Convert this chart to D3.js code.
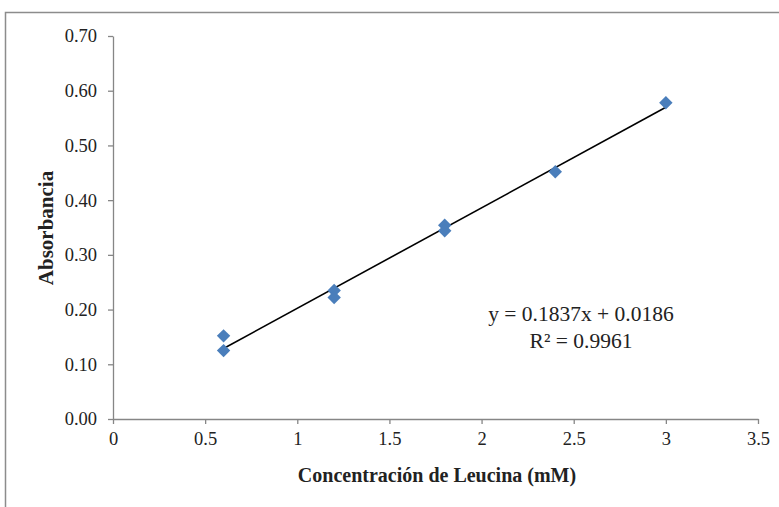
<!DOCTYPE html>
<html lang="es">
<head>
    <meta charset="UTF-8">
    <title>Absorbancia vs Leucina</title>
    <script src="https://cdn.jsdelivr.net/npm/d3@7/dist/d3.min.js"></script>
    <style>
        body { margin: 0; background: #fff; }
        text { font-family: "Liberation Serif", "Times New Roman", serif; fill: #222; }
    </style>
</head>
<body>
<script>

    var width = 779;
    var height = 507;

    // puntos medidos
    var concentracion = [0.6, 0.6, 1.2, 1.2, 1.8, 1.8, 2.4, 3.0];
    var absorbancia = [0.152, 0.125, 0.235, 0.222, 0.354, 0.344, 0.452, 0.578];

    // linea de tendencia
    var pendiente = 0.1837;
    var intercepto = 0.0186;
    var ecuacion = "y = 0.1837x + 0.0186";
    var r2 = "R² = 0.9961";

    var xTicks = [0, 0.5, 1, 1.5, 2, 2.5, 3, 3.5];
    var yTicks = [0, 0.1, 0.2, 0.3, 0.4, 0.5, 0.6, 0.7];

    var xScale = d3.scaleLinear()
        .domain([0, 3.5])
        .range([113, 758]);

    var yScale = d3.scaleLinear()
        .domain([0, 0.7])
        .range([419, 36]);

    var svg = d3.select("body").append("svg")
        .attr("width", width)
        .attr("height", height);

    // marco del grafico
    svg.append("rect")
        .attr("x", 5.5)
        .attr("y", 12.5)
        .attr("width", 800)
        .attr("height", 520)
        .attr("fill", "none")
        .attr("stroke", "#8c8c8c")
        .attr("stroke-width", 1.5);

    var xAxis = d3.axisBottom(xScale)
        .tickValues(xTicks)
        .tickSize(5)
        .tickSizeOuter(0)
        .tickPadding(8)
        .tickFormat(d3.format("~g"));

    var yAxis = d3.axisLeft(yScale)
        .tickValues(yTicks)
        .tickSize(5)
        .tickSizeOuter(0)
        .tickPadding(11)
        .tickFormat(d3.format(".2f"));

    var xGroup = svg.append("g")
        .attr("transform", "translate(0," + yScale(0) + ")")
        .call(xAxis);

    var yGroup = svg.append("g")
        .attr("transform", "translate(" + xScale(0) + ",0)")
        .call(yAxis);

    [xGroup, yGroup].forEach(function (g) {
        g.select(".domain").attr("stroke", "#868686").attr("stroke-width", 1.3);
        g.selectAll(".tick line").attr("stroke", "#868686").attr("stroke-width", 1.3);
        g.selectAll(".tick text")
            .style("font-family", "'Liberation Serif', serif")
            .style("font-size", "18.5px")
            .attr("fill", "#222");
    });

    // linea de tendencia
    var xMin = d3.min(concentracion);
    var xMax = d3.max(concentracion);
    svg.append("line")
        .attr("x1", xScale(xMin))
        .attr("y1", yScale(pendiente * xMin + intercepto))
        .attr("x2", xScale(xMax))
        .attr("y2", yScale(pendiente * xMax + intercepto))
        .attr("stroke", "#000")
        .attr("stroke-width", 1.6);

    // puntos
    var diamond = d3.symbol().type(d3.symbolSquare).size(90);
    svg.selectAll(".punto")
        .data(concentracion)
        .enter().append("path")
        .attr("class", "punto")
        .attr("d", diamond)
        .attr("transform", function (d, i) {
            return "translate(" + xScale(d) + "," + yScale(absorbancia[i]) + ") rotate(45)";
        })
        .attr("fill", "#4a7ebb");

    // ecuacion
    svg.append("text")
        .attr("x", 581)
        .attr("y", 321)
        .attr("text-anchor", "middle")
        .style("font-size", "21.5px")
        .text(ecuacion);
    svg.append("text")
        .attr("x", 581)
        .attr("y", 348)
        .attr("text-anchor", "middle")
        .style("font-size", "21.5px")
        .text(r2);

    // titulos
    svg.append("text")
        .attr("x", 437)
        .attr("y", 482)
        .attr("text-anchor", "middle")
        .style("font-size", "20px")
        .style("font-weight", "bold")
        .text("Concentración de Leucina (mM)");

    svg.append("text")
        .attr("transform", "translate(53,228) rotate(-90)")
        .attr("text-anchor", "middle")
        .style("font-size", "21px")
        .style("font-weight", "bold")
        .text("Absorbancia");

</script>
</body>
</html>
